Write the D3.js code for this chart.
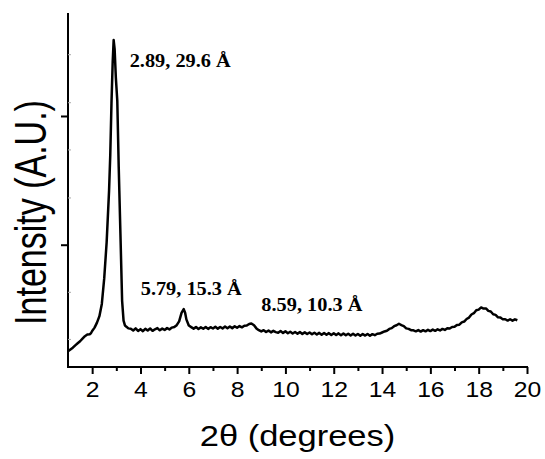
<!DOCTYPE html>
<html>
<head>
<meta charset="utf-8">
<script src="https://cdn.jsdelivr.net/npm/d3@7"></script>
<style>
  html, body { margin: 0; padding: 0; background: #fff; }
  svg { display: block; }
</style>
</head>
<body>
<svg id="chart" width="545" height="459"></svg>
<script>
// XRD pattern: diffraction angle (2θ, degrees) and intensity (arbitrary units)
const twoTheta = [
  1.0, 1.1, 1.2, 1.3, 1.4, 1.5, 1.6, 1.7, 1.8, 1.9, 1.95,
  2.0, 2.1, 2.2, 2.3, 2.4, 2.5, 2.6, 2.7, 2.75, 2.8, 2.85, 2.89, 2.93, 2.98,
  3.04, 3.1, 3.17, 3.24, 3.3, 3.36, 3.42, 3.5,
  3.6, 3.7, 3.8, 3.9, 4.0, 4.1, 4.2, 4.3, 4.4, 4.5, 4.6, 4.7, 4.8, 4.9,
  5.0, 5.1, 5.2, 5.3, 5.4, 5.5, 5.6, 5.7, 5.79, 5.85, 5.9,
  6.0, 6.1, 6.2, 6.3, 6.4, 6.5, 6.6, 6.7, 6.8, 6.9,
  7.0, 7.1, 7.2, 7.3, 7.4, 7.5, 7.6, 7.7, 7.8, 7.9,
  8.0, 8.1, 8.2, 8.3, 8.4, 8.5, 8.59, 8.7, 8.8, 8.9,
  9.0, 9.1, 9.2, 9.3, 9.4, 9.5, 9.6, 9.7, 9.8, 9.9,
  10.0, 10.1, 10.2, 10.3, 10.4, 10.5, 10.6, 10.7, 10.8, 10.9,
  11.0, 11.1, 11.2, 11.3, 11.4, 11.5, 11.6, 11.7, 11.8, 11.9,
  12.0, 12.1, 12.2, 12.3, 12.4, 12.5, 12.6, 12.7, 12.8, 12.9,
  13.0, 13.1, 13.2, 13.3, 13.4, 13.5, 13.6, 13.7, 13.8, 13.9,
  14.0, 14.1, 14.2, 14.3, 14.4, 14.5, 14.6, 14.7, 14.8, 14.9,
  15.0, 15.1, 15.2, 15.3, 15.4, 15.5, 15.6, 15.7, 15.8, 15.9,
  16.0, 16.1, 16.2, 16.3, 16.4, 16.5, 16.6, 16.7, 16.8, 16.9,
  17.0, 17.1, 17.2, 17.3, 17.4, 17.5, 17.6, 17.7, 17.8, 17.9,
  18.0, 18.1, 18.2, 18.3, 18.4, 18.5, 18.6, 18.7, 18.8, 18.9,
  19.0, 19.1, 19.2, 19.3, 19.4, 19.5, 19.6
];
const intensity = [
  172, 186, 200, 218, 234, 250, 270, 289, 302, 305, 312,
  330, 356, 395, 445, 540, 740, 1020, 1420, 1700, 2100, 2420, 2590, 2520, 2300,
  2120, 1600, 1086, 564, 410, 372, 362, 350,
  348, 334, 350, 330, 344, 328, 347, 333, 349, 331, 343, 352, 335, 348,
  338, 352, 342, 356, 360, 375, 405, 470, 500, 470, 420,
  372, 360, 348, 360, 345, 358, 347, 361, 346, 359,
  349, 362, 348, 361, 350, 364, 351, 365, 352, 366,
  355, 368, 358, 370, 372, 384, 388, 374, 350, 336,
  326, 336, 322, 333, 319, 331, 321, 316, 329, 315,
  327, 312, 324, 310, 322, 309, 321, 307, 319, 306,
  318, 304, 316, 302, 315, 301, 314, 300, 313, 299,
  312, 298, 311, 297, 310, 296, 309, 295, 308, 294,
  307, 293, 306, 294, 307, 293, 305, 297, 308, 310,
  318, 326, 332, 346, 352, 367, 374, 386, 376, 368,
  350, 346, 336, 335, 327, 337, 325, 336, 327, 339,
  329, 341, 331, 343, 334, 346, 338, 351, 349, 361,
  362, 377, 379, 397, 403, 423, 434, 458, 468, 491,
  496, 513, 504, 505, 486, 481, 460, 455, 436, 435,
  420, 421, 411, 421, 410, 420, 413
];

// Labelled reflections: peak angle and d-spacing (Å)
const peakAngles = [2.89, 5.79, 8.59];
const dSpacings = [29.6, 15.3, 10.3];

// Axis ticks
const xMajorTicks = [2, 4, 6, 8, 10, 12, 14, 16, 18, 20];
const xMinorTicks = [3, 5, 7, 9, 11, 13, 15, 17, 19];
const yMajorTicks = [1000, 2000];
const yMinorTicks = [268, 634, 1367, 1740, 2107, 2480];

const xDomain = [1, 20];
const yDomain = [50, 2800];

const svg = d3.select("#chart");
const plotLeft = 68, plotRight = 527, plotTop = 13, plotBottom = 367;

const x = d3.scaleLinear().domain(xDomain).range([plotLeft, plotRight]);
const y = d3.scaleLinear().domain(yDomain).range([plotBottom, plotTop]);

const points = twoTheta.map((t, i) => [t, intensity[i]]);

// Pattern trace
svg.append("path")
  .datum(points)
  .attr("fill", "none")
  .attr("stroke", "#000")
  .attr("stroke-width", 2.5)
  .attr("stroke-linejoin", "round")
  .attr("d", d3.line().x(d => x(d[0])).y(d => y(d[1])));

// Bottom axis: short minor ticks, then major ticks with labels
const xMinG = svg.append("g").attr("transform", `translate(0,${plotBottom})`)
  .call(d3.axisBottom(x).tickValues(xMinorTicks).tickSize(4).tickFormat(""));
xMinG.select(".domain").remove();
xMinG.selectAll(".tick line").attr("stroke", "#000").attr("stroke-width", 2);

const xMajG = svg.append("g").attr("transform", `translate(0,${plotBottom})`)
  .call(d3.axisBottom(x).tickValues(xMajorTicks).tickSize(7).tickSizeOuter(0).tickFormat(""));
xMajG.selectAll(".tick line").attr("stroke", "#000").attr("stroke-width", 2);
xMajG.select(".domain").attr("stroke", "#000").attr("stroke-width", 2)
  .attr("d", `M${plotLeft - 1},0H${plotRight + 1}`);

xMajG.selectAll(".tick").append("text")
  .attr("fill", "#000")
  .attr("stroke", "none")
  .attr("font-family", "'Liberation Sans', Arial, sans-serif")
  .attr("font-size", 21.5)
  .attr("text-anchor", "middle")
  .attr("transform", "translate(0,30) scale(1.15,1)")
  .text(d => d);

// Left axis: outward major ticks, faint inward minor marks
const yAxisG = svg.append("g").attr("transform", `translate(${plotLeft},0)`)
  .call(d3.axisLeft(y).tickValues(yMajorTicks).tickSize(7).tickSizeOuter(0).tickFormat(""));
yAxisG.select(".domain").attr("stroke", "#000").attr("stroke-width", 2)
  .attr("d", `M0,${plotTop}V${plotBottom + 1}`);
yAxisG.selectAll(".tick line").attr("stroke", "#000").attr("stroke-width", 2);

const yMinG = svg.append("g").attr("transform", `translate(${plotLeft},0)`)
  .call(d3.axisRight(y).tickValues(yMinorTicks).tickSize(3).tickFormat(""));
yMinG.select(".domain").remove();
yMinG.selectAll(".tick line").attr("stroke", "#aaa").attr("stroke-width", 1);

// Axis titles
svg.append("text")
  .attr("font-family", "'Liberation Sans', Arial, sans-serif")
  .attr("font-size", 30)
  .attr("text-anchor", "middle")
  .attr("transform", `translate(${(plotLeft + plotRight) / 2},446) scale(1.15,1)`)
  .text("2θ (degrees)");

svg.append("text")
  .attr("font-family", "'Liberation Sans', Arial, sans-serif")
  .attr("font-size", 34)
  .attr("text-anchor", "middle")
  .attr("transform", "translate(45.7,212.5) scale(1.3,1) rotate(-90)")
  .text("Intensity (A.U.)");

// Peak annotations: "2θ, d-spacing Å"
const labelOffsets = [[16, 67], [-43, 295], [10, 310.5]];
svg.append("g").selectAll("text")
  .data(peakAngles)
  .join("text")
  .attr("font-family", "'Liberation Serif', 'Times New Roman', serif")
  .attr("font-weight", "bold")
  .attr("font-size", 18)
  .attr("transform", (d, i) => `translate(${x(d) + labelOffsets[i][0]},${labelOffsets[i][1]}) scale(1.13,1)`)
  .text((d, i) => `${d.toFixed(2)}, ${dSpacings[i].toFixed(1)} Å`);
</script>
</body>
</html>
